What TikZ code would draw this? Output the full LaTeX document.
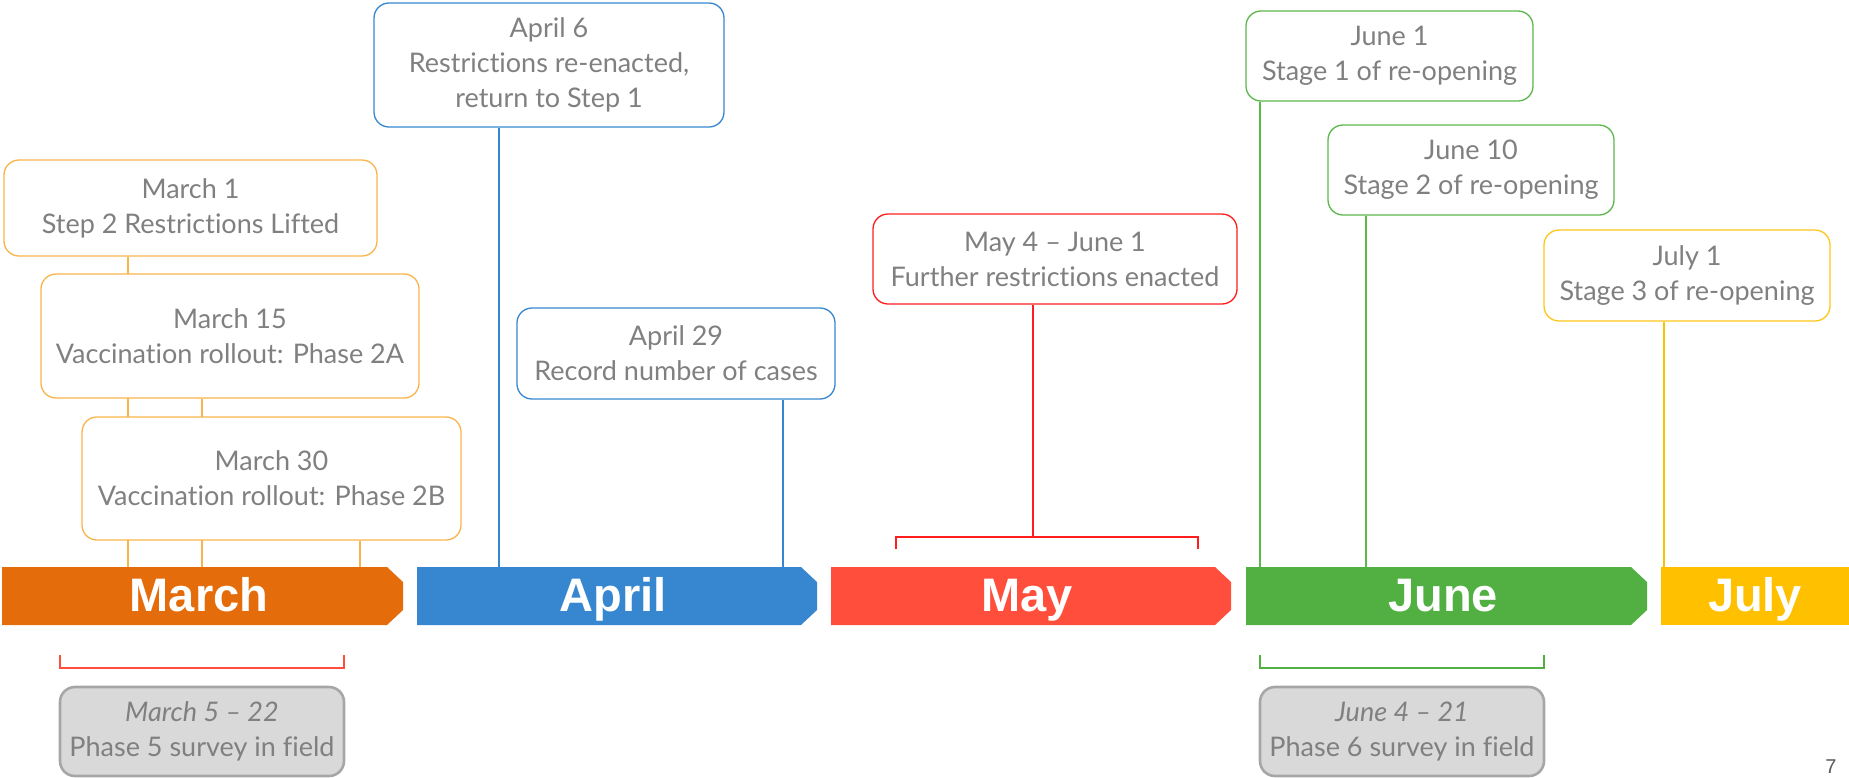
\documentclass[tikz,border=0pt]{standalone}
\usepackage{fontspec}
\setmainfont{Lato}[Ligatures=NoCommon]
\newfontfamily\barfont{Liberation Sans}
\definecolor{marchc}{HTML}{E46C0A}
\definecolor{aprilc}{HTML}{3787D0}
\definecolor{mayc}{HTML}{FF4F3C}
\definecolor{junec}{HTML}{52B043}
\definecolor{julyc}{HTML}{FFC000}
\definecolor{marchev}{HTML}{F9B44C}
\definecolor{mayev}{HTML}{FF1E1E}
\definecolor{juneev}{HTML}{5CB84A}
\definecolor{julyev}{HTML}{FFC61A}
\definecolor{txtgray}{HTML}{808080}
\definecolor{boxgray}{HTML}{D9D9D9}
\definecolor{edgegray}{HTML}{A6A6A6}
\begin{document}
\begin{tikzpicture}[x=1pt, y=-1pt,
    event/.style={draw, rounded corners=15pt, fill=white, line width=1.3pt, align=center,
        text=txtgray, inner sep=0pt, font=\fontsize{27}{35}\selectfont},
    survey/.style={event, fill=boxgray, draw=edgegray, line width=2.6pt},
    month/.style={text=white, anchor=base, font=\barfont\bfseries\fontsize{47}{47}\selectfont},
    tick/.style={line width=1.4pt},
    brace/.style={line width=1.6pt}]
    \useasboundingbox (0,0) rectangle (1849,777);

    % month bars
    \fill[marchc] (2,567) -- (387,567) -- (403,582) -- (403,610) -- (387,625) -- (2,625) -- cycle;
    \fill[aprilc] (417,567) -- (801,567) -- (817,582) -- (817,610) -- (801,625) -- (417,625) -- cycle;
    \fill[mayc] (831,567) -- (1215,567) -- (1231,582) -- (1231,610) -- (1215,625) -- (831,625) -- cycle;
    \fill[junec] (1246,567) -- (1631,567) -- (1647,582) -- (1647,610) -- (1631,625) -- (1246,625) -- cycle;
    \fill[julyc] (1661,567) rectangle (1849,625);
    \node[month] (mar) at (199,611) {March};
    \node[month] (apr) at (613,611) {April};
    \node[month] (may) at (1027,611) {May};
    \node[month] (jun) at (1443,611) {June};
    \node[month] (jul) at (1755,611) {July};

    % where the events meet the bars
    \coordinate (tm1) at (128,567);
    \coordinate (tm15) at (202,567);
    \coordinate (tm30) at (360,567);
    \coordinate (ta6) at (499,567);
    \coordinate (ta29) at (783,567);
    \coordinate (tmay) at (1033,537);
    \coordinate (tj1) at (1260,567);
    \coordinate (tj10) at (1366,567);
    \coordinate (tjl1) at (1664,567);

    % events
    \node[event, draw=marchev, minimum width=373, minimum height=96] (m1) at (190.5,208) {March 1\\Step 2 Restrictions Lifted};
    \draw[tick, marchev] (tm1 |- m1.south) -- (tm1);
    \node[event, draw=marchev, minimum width=378, minimum height=124] (m15) at (230,336) {March 15\\Vaccination rollout: Phase 2A};
    \draw[tick, marchev] (tm15 |- m15.south) -- (tm15);
    \node[event, draw=marchev, minimum width=379, minimum height=123] (m30) at (271.5,478.5) {March 30\\Vaccination rollout: Phase 2B};
    \draw[tick, marchev] (tm30 |- m30.south) -- (tm30);
    \draw[tick, marchev] (tm1 |- m15.south) -- (tm1 |- m30.north);
    \draw[tick, marchev] (tm1 |- m30.south) -- (tm1);
    \draw[tick, marchev] (tm15 |- m30.south) -- (tm15);

    \node[event, draw=aprilc, minimum width=350, minimum height=124] (a6) at (549,65) {April 6\\Restrictions re-enacted,\\return to Step 1};
    \draw[tick, aprilc] (ta6 |- a6.south) -- (ta6);
    \node[event, draw=aprilc, minimum width=318, minimum height=91] (a29) at (676,353.5) {April 29\\Record number of cases};
    \draw[tick, aprilc] (ta29 |- a29.south) -- (ta29);

    \node[event, draw=mayev, minimum width=364, minimum height=90] (m4) at (1055,259) {May 4 -- June 1\\Further restrictions enacted};
    \draw[tick, mayev] (tmay |- m4.south) -- (tmay);
    \draw[brace, mayev] (896,549) -- (896,537) -- (1198,537) -- (1198,549);

    \node[event, draw=juneev, minimum width=287, minimum height=90] (j1) at (1389.5,56) {June 1\\Stage 1 of re-opening};
    \draw[tick, juneev] (tj1 |- j1.south) -- (tj1);
    \node[event, draw=juneev, minimum width=286, minimum height=90] (j10) at (1471,170) {June 10\\Stage 2 of re-opening};
    \draw[tick, juneev] (tj10 |- j10.south) -- (tj10);
    \node[event, draw=julyev, minimum width=286, minimum height=91] (jl1) at (1687,275.5) {July 1\\Stage 3 of re-opening};
    \draw[tick, julyc] (tjl1 |- jl1.south) -- (tjl1);

    % survey periods
    \draw[brace, mayc] (60,655) -- (60,668) -- (344,668) -- (344,655);
    \node[survey, minimum width=284, minimum height=89] (p5) at (202,731.5) {\textit{March 5 -- 22}\\Phase 5 survey in field};
    \draw[brace, junec] (1260,655) -- (1260,668) -- (1544,668) -- (1544,655);
    \node[survey, minimum width=284, minimum height=89] (p6) at (1402,731.5) {\textit{June 4 -- 21}\\Phase 6 survey in field};

    \node[anchor=base, text=black!65, font=\barfont\fontsize{20}{20}\selectfont] (pg) at (1831,773) {7};
\end{tikzpicture}
\end{document}
